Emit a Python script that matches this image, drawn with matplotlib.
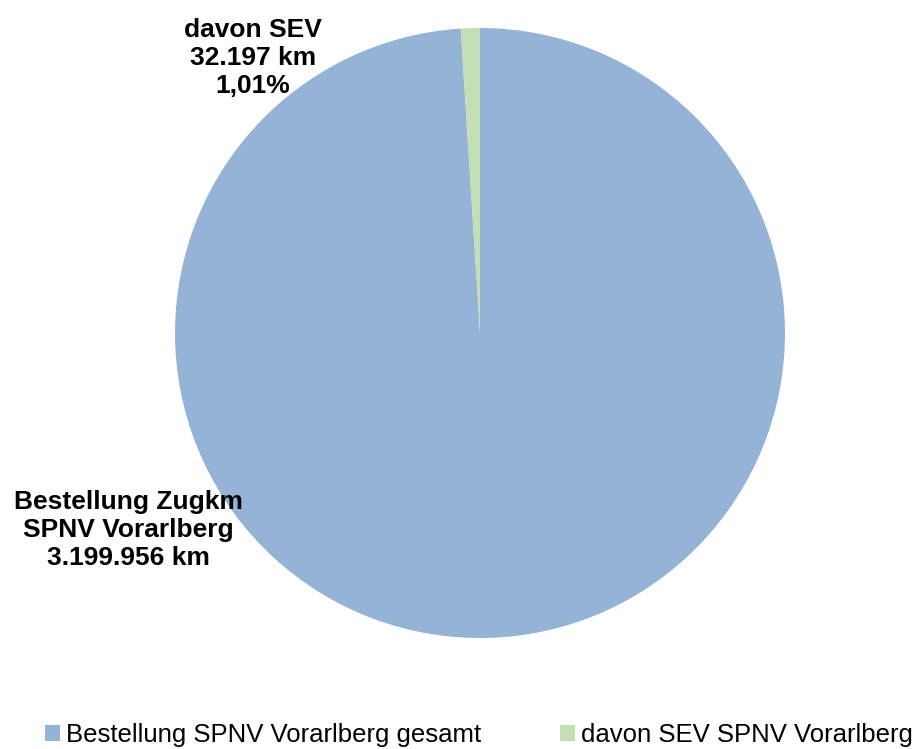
import matplotlib.pyplot as plt

gesamt_km = 3199956
sev_km = 32197
legend_labels = ["Bestellung SPNV Vorarlberg gesamt", "davon SEV SPNV Vorarlberg"]
colors = ["#95B3D7", "#C4DFB4"]

fig = plt.figure(figsize=(9.23, 7.49), dpi=100)
W, H = 923, 749
ax = fig.add_axes([175 / W, (H - 638) / H, 610 / W, 610 / H])

values = [gesamt_km - sev_km, sev_km]
wedges, _ = ax.pie(values, colors=colors, startangle=90, counterclock=False,
                   wedgeprops=dict(linewidth=0))
ax.set_xlim(-1, 1)
ax.set_ylim(-1, 1)
ax.set_aspect("equal")


def fmt(n):
    return f"{n:,}".replace(",", ".")


pct = f"{sev_km / gesamt_km * 100:.2f}".replace(".", ",")
fig.text(253 / W, 1 - 58 / H, f"davon SEV\n{fmt(sev_km)} km\n{pct}%",
         ha="center", va="center", fontsize=19, fontweight="bold",
         family="Liberation Sans", linespacing=1.2)
fig.text(128 / W, 1 - 530 / H,
         f"Bestellung Zugkm\nSPNV Vorarlberg\n{fmt(gesamt_km)} km",
         ha="center", va="center", fontsize=19, fontweight="bold",
         family="Liberation Sans", linespacing=1.2)

fig.legend(wedges, legend_labels, loc="upper left",
           bbox_to_anchor=(45 / W, 1 - 723 / H), ncol=2, frameon=False,
           prop={"family": "Liberation Sans", "size": 18.5},
           handlelength=0.57, handleheight=0.57, handletextpad=0.23,
           columnspacing=3.1, borderpad=0, borderaxespad=0)

fig.savefig("out.png", dpi=100)
